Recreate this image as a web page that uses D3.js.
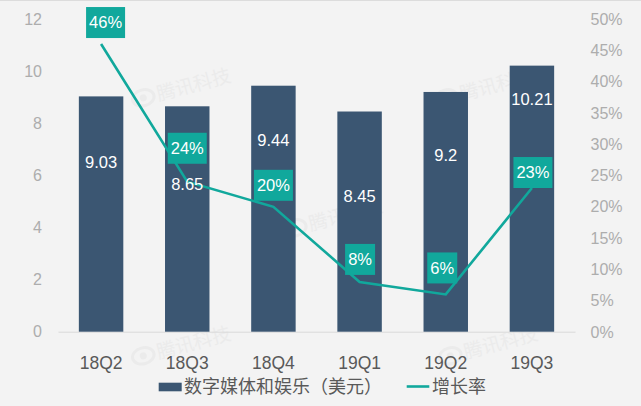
<!DOCTYPE html>
<html>
<head>
<meta charset="utf-8">
<script src="https://cdn.jsdelivr.net/npm/d3@7"></script>
<style>
    html, body { margin: 0; padding: 0; background: #f3f3f3; }
    svg { display: block; }
    text { font-family: "Liberation Sans", Arial, sans-serif; }
    .cjk { font-family: "Noto Sans CJK SC", sans-serif; }
</style>
</head>
<body>
<div id="chart"></div>
<script>
// Chart data
const quarters = ["18Q2", "18Q3", "18Q4", "19Q1", "19Q2", "19Q3"];
const revenue = [9.03, 8.65, 9.44, 8.45, 9.2, 10.21];
const revenueLabels = ["9.03", "8.65", "9.44", "8.45", "9.2", "10.21"];
const growth = [46, 24, 20, 8, 6, 23];
const leftTicks = [0, 2, 4, 6, 8, 10, 12];
const rightTicks = [0, 5, 10, 15, 20, 25, 30, 35, 40, 45, 50];
const seriesNames = ["数字媒体和娱乐（美元）", "增长率"];

const width = 641, height = 406;
const barColor = "#3b5672", lineColor = "#11a89c";

// Hand placed labels in the original, so they need their own nudges
const barLabelDrop = [66, 78, 55, 85, 63, 34];
const boxNudge = [[4.5, -6], [0, -18], [0, -6], [0.5, -7], [-3.5, -11], [1, 0]];
const watermarks = [[180, 88], [180, 346], [332, 218], [483, 88], [487, 346]];

const svg = d3.select("#chart").append("svg")
    .attr("width", width)
    .attr("height", height);

svg.append("rect").attr("width", width).attr("height", height).attr("fill", "#f3f3f3");
svg.append("line").attr("x1", 0).attr("x2", width).attr("y1", 0.5).attr("y2", 0.5)
    .attr("stroke", "#dcdcdc");

// Scales
const x = d3.scaleBand().domain(quarters).range([58, 575]).paddingInner(0.484).paddingOuter(0.242);
const yLeft = d3.scaleLinear().domain([0, 12]).range([331.7, 19]);
const yRight = d3.scaleLinear().domain([0, 50]).range([332, 19]);

// Faint watermarks
const wm = svg.append("g").attr("fill", "#ebebeb");
watermarks.forEach(p => {
    const g = wm.append("g").attr("transform", `translate(${p[0]},${p[1]}) rotate(-15)`);
    g.append("text").attr("class", "cjk").attr("x", -24).attr("y", 7)
        .attr("font-size", 19).text("腾讯科技");
    g.append("ellipse").attr("cx", -38).attr("cy", 0).attr("rx", 11).attr("ry", 8)
        .attr("fill", "none").attr("stroke", "#ebebeb").attr("stroke-width", 3);
    g.append("circle").attr("cx", -38).attr("cy", 0).attr("r", 3.5);
});

// Axes
const axisLeft = svg.append("g").attr("transform", "translate(42,0)")
    .call(d3.axisLeft(yLeft).tickValues(leftTicks).tickSize(0).tickPadding(0));
const axisRight = svg.append("g").attr("transform", "translate(590.5,0)")
    .call(d3.axisRight(yRight).tickValues(rightTicks).tickFormat(d => d + "%").tickSize(0).tickPadding(0));
const axisBottom = svg.append("g").attr("transform", "translate(0,331.7)")
    .call(d3.axisBottom(x).tickSize(0).tickPadding(24.5));

[axisLeft, axisRight].forEach(a => {
    a.select(".domain").remove();
    a.selectAll("text").attr("font-size", 16).attr("fill", "#adadad")
        .style("font-family", '"Liberation Sans", Arial, sans-serif');
});
axisBottom.select(".domain").attr("stroke", "#d9d9d9");
axisBottom.selectAll("text").attr("font-size", 17.5).attr("fill", "#595959")
    .style("font-family", '"Liberation Sans", Arial, sans-serif');

// Bars
svg.selectAll(".bar").data(quarters).enter().append("rect")
    .attr("class", "bar")
    .attr("x", d => x(d))
    .attr("width", x.bandwidth())
    .attr("y", (d, i) => yLeft(revenue[i]))
    .attr("height", (d, i) => yLeft(0) - yLeft(revenue[i]))
    .attr("fill", barColor);

// Growth line
const cx = d => x(d) + x.bandwidth() / 2;
const line = d3.line().x(d => cx(d)).y((d, i) => yRight(growth[i]));
svg.append("path").datum(quarters)
    .attr("d", line)
    .attr("fill", "none")
    .attr("stroke", lineColor)
    .attr("stroke-width", 2.6);

// Bar value labels
svg.selectAll(".bar-label").data(quarters).enter().append("text")
    .attr("class", "bar-label")
    .attr("x", d => cx(d))
    .attr("y", (d, i) => yLeft(revenue[i]) + barLabelDrop[i])
    .attr("dy", "0.35em")
    .attr("text-anchor", "middle")
    .attr("font-size", 16.5)
    .attr("fill", "#fff")
    .text((d, i) => revenueLabels[i]);

// Growth label boxes
const boxH = 31;
const boxW = v => v >= 10 ? 39 : 30;
const boxes = svg.selectAll(".box").data(quarters).enter().append("g").attr("class", "box")
    .attr("transform", (d, i) => `translate(${cx(d) + boxNudge[i][0]},${yRight(growth[i]) + boxNudge[i][1]})`);
boxes.append("rect")
    .attr("x", (d, i) => -boxW(growth[i]) / 2)
    .attr("y", -boxH)
    .attr("width", (d, i) => boxW(growth[i]))
    .attr("height", boxH)
    .attr("fill", lineColor);
boxes.append("text")
    .attr("y", -boxH / 2)
    .attr("dy", "0.35em")
    .attr("text-anchor", "middle")
    .attr("font-size", 16.5)
    .attr("fill", "#fff")
    .text((d, i) => growth[i] + "%");

// Legend
const legend = svg.append("g");
legend.append("rect").attr("x", 158.7).attr("y", 382.7).attr("width", 23).attr("height", 8.6).attr("fill", barColor);
legend.append("text").attr("class", "cjk").attr("x", 184).attr("y", 387).attr("dy", "0.36em")
    .attr("font-size", 18).attr("fill", "#595959").text(seriesNames[0]);
legend.append("line").attr("x1", 406.7).attr("x2", 429.3).attr("y1", 386.5).attr("y2", 386.5)
    .attr("stroke", lineColor).attr("stroke-width", 2.6);
legend.append("text").attr("class", "cjk").attr("x", 432).attr("y", 387).attr("dy", "0.36em")
    .attr("font-size", 18).attr("fill", "#595959").text(seriesNames[1]);
</script>
</body>
</html>
